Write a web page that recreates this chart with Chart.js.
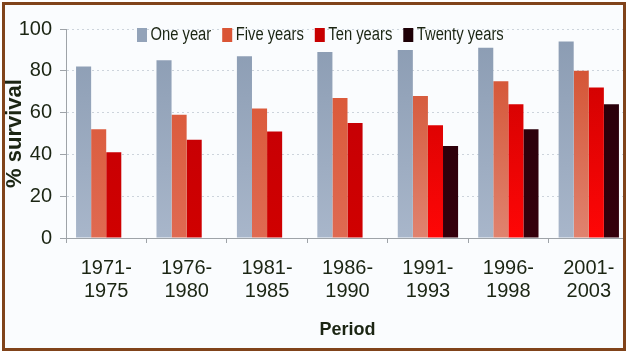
<!DOCTYPE html>
<html lang="en">
  <head>
    <meta charset="UTF-8" />
    <title>% survival by period</title>
    <script src="https://cdn.jsdelivr.net/npm/chart.js"></script>
    <style>
      body {
        margin: 0;
        background: #ffffff;
        width: 629px;
        height: 353px;
        overflow: hidden;
        position: relative;
      }

      .frame {
        position: absolute;
        left: 2px;
        top: 2px;
        width: 618px;
        height: 343px;
        border: 3px solid #80431a;
        overflow: hidden;
        background: #fafcfe;
      }

      .frame canvas {
        position: absolute;
        left: -5px;
        top: -5px;
      }
    </style>
  </head>
  <body>
    <div class="frame">
      <canvas id="survivalChart" width="629" height="353"></canvas>
    </div>

    <script>
      // data
      const periods = [
        ["1971-", "1975"],
        ["1976-", "1980"],
        ["1981-", "1985"],
        ["1986-", "1990"],
        ["1991-", "1993"],
        ["1996-", "1998"],
        ["2001-", "2003"],
      ];
      const oneYear = [82, 85, 87, 89, 90, 91, 94];
      const fiveYears = [52, 59, 62, 67, 68, 75, 80];
      const tenYears = [41, 47, 51, 55, 54, 64, 72];
      const twentyYears = [null, null, null, null, 44, 52, 64];
      const yTicks = [0, 20, 40, 60, 80, 100];

      const textColor = "#1b2513";
      const family = '"Liberation Sans", Arial, sans-serif';

      // vertical gradient over the plot area
      function grad(top, bottom) {
        return (ctx) => {
          const area = ctx.chart.chartArea;
          if (!area) return bottom;
          const g = ctx.chart.ctx.createLinearGradient(0, area.top, 0, area.bottom);
          g.addColorStop(0, top);
          g.addColorStop(1, bottom);
          return g;
        };
      }
      const oneFill = grad("#8a9bb2", "#a8b6ca");
      const fiveOld = grad("#d9522f", "#df6a52");
      const fiveNew = grad("#d24a28", "#e0836f");
      const tenOld = grad("#c00008", "#d00000");
      const tenNew = grad("#c40000", "#ff0606");

      // legend sits inside the plot, text a bit condensed like the original
      const legendPlugin = {
        id: "topLegend",
        afterDatasetsDraw(chart) {
          const ctx = chart.ctx;
          const squeeze = 0.82;
          ctx.save();
          ctx.font = "18px " + family;
          ctx.textBaseline = "middle";
          let x = 137;
          const y = 35;
          chart.data.datasets.forEach((ds) => {
            ctx.fillStyle = ds.legendColor;
            ctx.fillRect(x, y - 7, 10, 14);
            ctx.save();
            ctx.translate(x + 13.5, y);
            ctx.scale(squeeze, 1);
            ctx.fillStyle = textColor;
            ctx.fillText(ds.label, 0, 0);
            ctx.restore();
            x += 13.5 + ctx.measureText(ds.label).width * squeeze + 11;
          });
          ctx.restore();
        },
      };

      new Chart(document.getElementById("survivalChart"), {
        type: "bar",
        data: {
          labels: periods,
          datasets: [
            {
              label: "One year",
              data: oneYear,
              backgroundColor: oneFill,
              legendColor: "#93a3b9",
            },
            {
              label: "Five years",
              data: fiveYears,
              backgroundColor: (c) => (c.dataIndex < 4 ? fiveOld(c) : fiveNew(c)),
              legendColor: "#da5536",
            },
            {
              label: "Ten years",
              data: tenYears,
              backgroundColor: (c) => (c.dataIndex < 4 ? tenOld(c) : tenNew(c)),
              legendColor: "#c80000",
            },
            {
              label: "Twenty years",
              data: twentyYears,
              backgroundColor: grad("#24000a", "#35000c"),
              legendColor: "#1e0006",
            },
          ],
        },
        options: {
          responsive: false,
          animation: false,
          layout: { padding: { top: 29, right: 0, bottom: 12, left: 0 } },
          datasets: {
            bar: { categoryPercentage: 0.75, barPercentage: 1.0 },
          },
          plugins: {
            legend: { display: false },
            tooltip: { enabled: false },
          },
          scales: {
            x: {
              offset: true,
              grid: {
                drawOnChartArea: false,
                drawTicks: true,
                tickLength: 5,
                color: "#9ea3a8",
              },
              border: { color: "#9ea3a8", width: 1 },
              ticks: {
                color: textColor,
                padding: 14,
                maxRotation: 0,
                font: { family: family, size: 20, lineHeight: 1.15 },
              },
              title: {
                display: true,
                text: "Period",
                color: textColor,
                padding: { top: 0, bottom: 0 },
                font: { family: family, size: 18, weight: "bold", lineHeight: 1.2 },
              },
              afterFit(scale) {
                scale.height = 103;
              },
            },
            y: {
              min: 0,
              max: 100,
              afterBuildTicks(scale) {
                scale.ticks = yTicks.map((v) => ({ value: v }));
              },
              grid: {
                color: "#cdd4dc",
                tickColor: "#9ea3a8",
                tickLength: 6,
                tickBorderDash: [],
              },
              border: { color: "#9ea3a8", width: 1, dash: [2, 3] },
              ticks: {
                color: textColor,
                padding: 8,
                font: { family: family, size: 20 },
              },
              title: {
                display: true,
                text: "% survival",
                color: textColor,
                padding: { top: 2, bottom: 0 },
                font: { family: family, size: 22, weight: "bold", lineHeight: 1.2 },
              },
              afterFit(scale) {
                scale.width = 66;
              },
            },
          },
        },
        plugins: [legendPlugin],
      });
    </script>
  </body>
</html>
